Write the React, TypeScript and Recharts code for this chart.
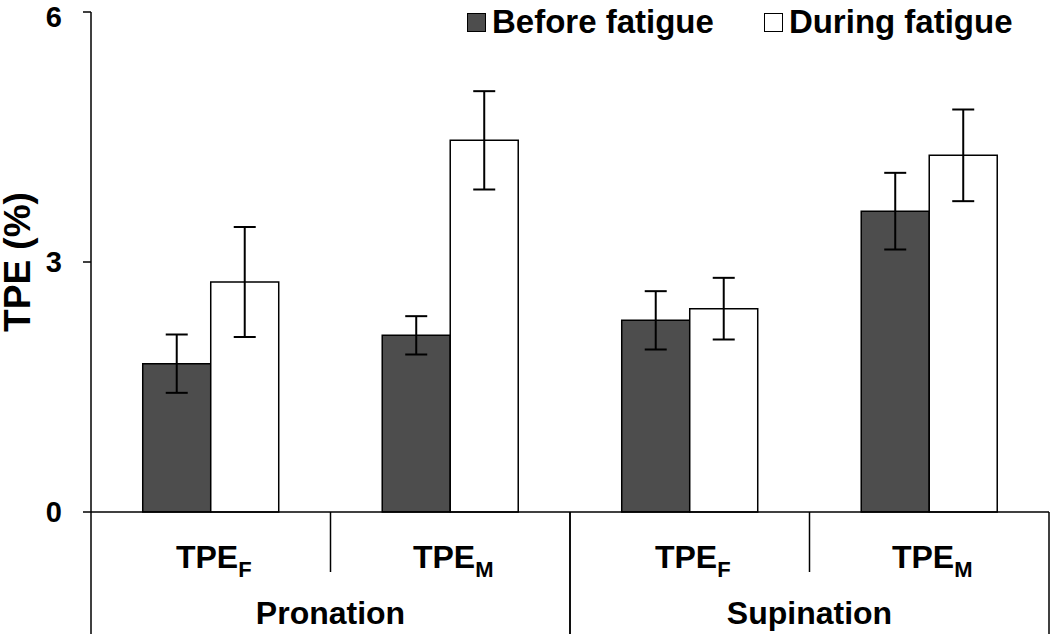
import { BarChart, Bar, XAxis, YAxis, ErrorBar, Label } from 'recharts';

const groups = ['Pronation', 'Pronation', 'Supination', 'Supination'];
const subscripts = ['F', 'M', 'F', 'M'];
const beforeFatigue = [1.78, 2.12, 2.3, 3.61];
const beforeErr = [0.35, 0.23, 0.35, 0.46];
const duringFatigue = [2.76, 4.46, 2.44, 4.28];
const duringErr = [0.66, 0.59, 0.37, 0.55];
const yTicks = [0, 3, 6];
const seriesNames = ['Before fatigue', 'During fatigue'];
const seriesFills = ['#4d4d4d', '#fff'];

const data = groups.map((g, i) => ({
    name: `${g} TPE${subscripts[i]}`,
    group: g,
    sub: subscripts[i],
    before: beforeFatigue[i],
    beforeErr: beforeErr[i],
    during: duringFatigue[i],
    duringErr: duringErr[i],
}));

const W = 1050;
const H = 634;
const Y_AXIS_W = 91;
const RIGHT = 1;
const BAND = (W - Y_AXIS_W - RIGHT) / data.length;
const FONT = 'Arial, "Liberation Sans", sans-serif';

// sub-category label + separators + group label, all drawn from the tick position
const CategoryTick = (props: any) => {
    const { x, y } = props;
    const index = props.index ?? props.payload?.index ?? 0;
    const d = data[index];
    const half = BAND / 2;
    const first = index === 0 || data[index - 1].group !== d.group;
    const last = index === data.length - 1 || data[index + 1].group !== d.group;
    const n = data.filter((e) => e.group === d.group).length;
    return (
        <g>
            <text x={x + 3} y={y + 56} textAnchor="middle" fontFamily={FONT} fontWeight="bold" fontSize={32} fill="#000">
                TPE
                <tspan dy={9} fontSize={22}>{d.sub}</tspan>
            </text>
            {first && <line x1={x - half} x2={x - half} y1={y} y2={H} stroke="#000" strokeWidth={1.5} />}
            <line x1={x + half} x2={x + half} y1={y} y2={last ? H : y + 60} stroke="#000" strokeWidth={1.5} />
            {last && (
                <text x={x + half - (n * BAND) / 2} y={y + 112} textAnchor="middle" fontFamily={FONT} fontWeight="bold" fontSize={32} fill="#000">
                    {d.group}
                </text>
            )}
        </g>
    );
};

const ChartLegend = () => (
    <div
        style={{
            position: 'absolute',
            top: 0,
            left: 467,
            display: 'flex',
            fontFamily: FONT,
            fontWeight: 'bold',
            fontSize: 33,
            lineHeight: '44px',
            color: '#000',
        }}
    >
        {seriesNames.map((name, i) => (
            <div key={name} style={{ display: 'flex', alignItems: 'center', marginLeft: i === 0 ? 0 : 50 }}>
                <span style={{ width: 17, height: 17, background: seriesFills[i], border: '1.5px solid #000', marginRight: 6, display: 'inline-block' }} />
                <span>{name}</span>
            </div>
        ))}
    </div>
);

export default function App() {
    return (
        <div style={{ position: 'relative', width: W, height: H, background: '#fff' }}>
            <style>{'body{margin:0}'}</style>
            <BarChart width={W} height={H} data={data} margin={{ top: 12, right: RIGHT, left: 0, bottom: 0 }} barGap={0} barCategoryGap="21.6%">
                <YAxis
                    width={Y_AXIS_W}
                    domain={[0, 6]}
                    ticks={yTicks}
                    tickSize={8}
                    tickMargin={21}
                    axisLine={{ stroke: '#000', strokeWidth: 1.5 }}
                    tickLine={{ stroke: '#000', strokeWidth: 1.5 }}
                    tick={{ fill: '#000', fontSize: 29, fontWeight: 'bold', fontFamily: FONT }}
                >
                    <Label
                        value="TPE (%)"
                        angle={-90}
                        position="insideLeft"
                        offset={17}
                        style={{ fill: '#000', fontSize: 37, fontWeight: 'bold', fontFamily: FONT, textAnchor: 'middle' }}
                    />
                </YAxis>
                <XAxis
                    dataKey="name"
                    height={122}
                    interval={0}
                    tickSize={0}
                    tickMargin={0}
                    tickLine={false}
                    axisLine={{ stroke: '#000', strokeWidth: 1.5 }}
                    tick={<CategoryTick />}
                />
                <Bar dataKey="before" name={seriesNames[0]} fill={seriesFills[0]} stroke="#000" strokeWidth={1.5} isAnimationActive={false}>
                    <ErrorBar dataKey="beforeErr" width={11} strokeWidth={2} stroke="#000" direction="y" />
                </Bar>
                <Bar dataKey="during" name={seriesNames[1]} fill={seriesFills[1]} stroke="#000" strokeWidth={1.5} isAnimationActive={false}>
                    <ErrorBar dataKey="duringErr" width={11} strokeWidth={2} stroke="#000" direction="y" />
                </Bar>
            </BarChart>
            <ChartLegend />
        </div>
    );
}
